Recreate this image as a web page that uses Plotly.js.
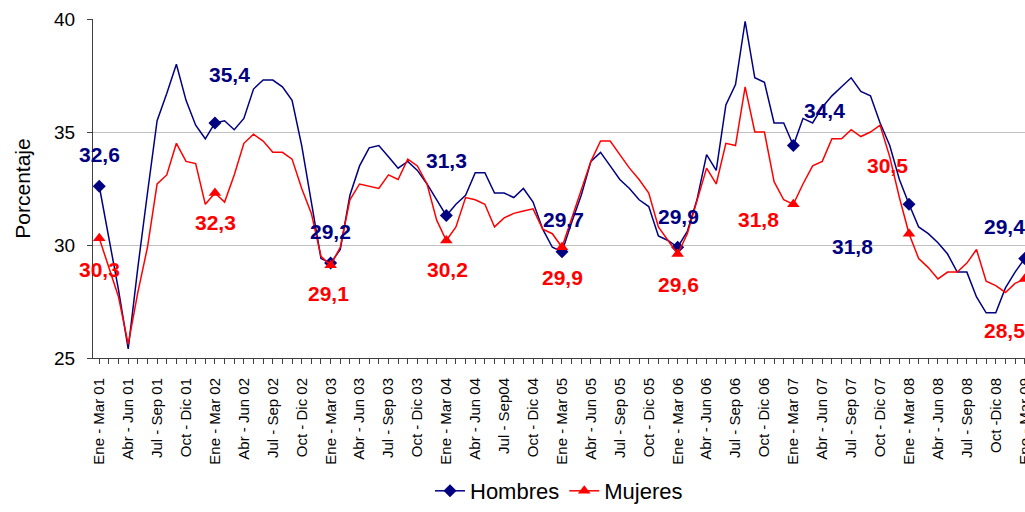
<!DOCTYPE html>
<html>
<head>
<meta charset="utf-8">
<script src="https://cdn.plot.ly/plotly-3.0.1.min.js"></script>
<style>
  body { margin: 0; overflow: hidden; background: #fff; }
  #chart { width: 1025px; height: 512px; }
</style>
</head>
<body>
<div id="chart"></div>
<script>
// ----- data: rolling quarters, Ene-Mar 01 .. Ene-Mar 09 (one point per month) -----
const hombres = [
  32.6, 30.3, 28.0, 25.4, 29.0, 32.3, 35.5, 36.7, 38.0, 36.4, 35.3, 34.7,
  35.4, 35.5, 35.1, 35.6, 36.9, 37.3, 37.3, 37.0, 36.4, 34.4, 31.9, 29.4,
  29.2, 29.8, 32.2, 33.5, 34.3, 34.4, 33.9, 33.4, 33.7, 33.3, 32.7, 32.0,
  31.3, 31.8, 32.2, 33.2, 33.2, 32.3, 32.3, 32.1, 32.5, 31.9, 30.7, 29.9,
  29.7, 31.0, 32.2, 33.7, 34.1, 33.5, 32.9, 32.5, 32.0, 31.7, 30.4, 30.2,
  29.9, 30.6, 32.0, 34.0, 33.3, 36.2, 37.1, 39.9, 37.4, 37.2, 35.4, 35.4,
  34.4, 35.6, 35.4, 36.1, 36.6, 37.0, 37.4, 36.8, 36.6, 35.4, 34.4, 32.9,
  31.8, 30.8, 30.5, 30.1, 29.6, 28.8, 28.8, 27.7, 27.0, 27.0, 28.1, 28.8,
  29.4
];

const mujeres = [
  30.3, 29.0, 27.7, 25.6, 27.9, 29.9, 32.7, 33.1, 34.5, 33.7, 33.6, 31.8,
  32.3, 31.9, 33.1, 34.5, 34.9, 34.6, 34.1, 34.1, 33.8, 32.5, 31.4, 29.5,
  29.1, 29.9, 32.0, 32.7, 32.6, 32.5, 33.1, 32.9, 33.8, 33.5, 32.7, 31.1,
  30.2, 30.8, 32.1, 32.0, 31.8, 30.8, 31.2, 31.4, 31.5, 31.6, 30.7, 30.5,
  29.9, 31.2, 32.5, 33.7, 34.6, 34.6, 34.0, 33.4, 32.9, 32.3, 30.8, 30.2,
  29.6, 30.5, 31.9, 33.4, 32.7, 34.5, 34.4, 37.0, 35.0, 35.0, 32.8, 32.0,
  31.8, 32.7, 33.5, 33.7, 34.7, 34.7, 35.1, 34.8, 35.0, 35.3, 33.9, 32.1,
  30.5, 29.4, 29.0, 28.5, 28.8, 28.8, 29.2, 29.8, 28.4, 28.2, 27.9, 28.3,
  28.5
];

// labels shown on the axis, one every third point
const tickLabels = [
  "Ene - Mar 01", "Abr - Jun 01", "Jul - Sep 01", "Oct - Dic 01",
  "Ene - Mar 02", "Abr - Jun 02", "Jul - Sep 02", "Oct - Dic 02",
  "Ene - Mar 03", "Abr - Jun 03", "Jul - Sep 03", "Oct - Dic 03",
  "Ene - Mar 04", "Abr - Jun 04", "Jul - Sep04", "Oct - Dic 04",
  "Ene - Mar 05", "Abr - Jun 05", "Jul - Sep 05", "Oct - Dic 05",
  "Ene - Mar 06", "Abr - Jun 06", "Jul - Sep 06", "Oct - Dic 06",
  "Ene - Mar 07", "Abr - Jun 07", "Jul - Sep 07", "Oct - Dic 07",
  "Ene - Mar 08", "Abr - Jun 08", "Jul - Sep 08", "Oct -Dic 08",
  "Ene - Mar 09"
];

const NAVY = "#000080";
const RED = "#ff0000";
const FONT = "Arial, Liberation Sans, sans-serif";

const xs = hombres.map((_, i) => i);
const tickVals = tickLabels.map((_, k) => k * 3);

// markers only on the Ene-Mar points
const markerColor = (c) => xs.map(i => (i % 12 === 0 ? c : "rgba(0,0,0,0)"));

const traces = [
  {
    x: xs, y: hombres, name: "Hombres",
    type: "scatter", mode: "lines+markers",
    line: { color: NAVY, width: 1.5 },
    marker: { symbol: "diamond", size: 10, color: markerColor(NAVY) },
    cliponaxis: false
  },
  {
    x: xs, y: mujeres, name: "Mujeres",
    type: "scatter", mode: "lines+markers",
    line: { color: RED, width: 1.5 },
    marker: { symbol: "triangle-up", size: 11, color: markerColor(RED) },
    cliponaxis: false
  }
];

// label offsets in pixels for each Ene-Mar point [index, dx, dy]
const blueLabelPos = [[0, 0, 32], [12, 15, 48], [24, 0, 32], [36, 0, 55], [48, 2, 32],
                      [60, 1, 31], [72, 31, 35], [84, -57, -42], [96, -20, 32]];
const redLabelPos = [[0, 0, -31], [12, 1, -29], [24, -2, -28], [36, 1, -29], [48, 1, -30],
                     [60, 1, -30], [72, -35, -15], [84, -22, 68], [96, -20, -52]];

const fmt = v => v.toFixed(1).replace(".", ",");
const annotations = [];
blueLabelPos.forEach(([i, dx, dy]) => annotations.push({
  x: i, y: hombres[i], xref: "x", yref: "y", text: "<b>" + fmt(hombres[i]) + "</b>",
  showarrow: false, xshift: dx, yshift: dy,
  font: { family: FONT, size: 21, color: NAVY }
}));
redLabelPos.forEach(([i, dx, dy]) => annotations.push({
  x: i, y: mujeres[i], xref: "x", yref: "y", text: "<b>" + fmt(mujeres[i]) + "</b>",
  showarrow: false, xshift: dx, yshift: dy,
  font: { family: FONT, size: 21, color: RED }
}));

const layout = {
  width: 1025, height: 512,
  margin: { l: 93, r: 0, t: 19, b: 154 },
  paper_bgcolor: "#fff", plot_bgcolor: "#fff",
  font: { family: FONT, color: "#000" },
  showlegend: true,
  legend: {
    orientation: "h", x: 0.5, xanchor: "center",
    yref: "container", y: -0.018, yanchor: "bottom",
    font: { family: FONT, size: 22, color: "#000" }
  },
  xaxis: {
    range: [-0.65, 96.03],
    tickmode: "array", tickvals: tickVals, ticktext: tickLabels,
    tickangle: -90, tickfont: { size: 15, color: "#000" },
    ticklabeloverflow: "allow", ticklabelstandoff: 8,
    ticks: "outside", ticklen: 5, tickcolor: "#404040",
    minor: { dtick: 1, tick0: 0, ticks: "outside", ticklen: 5, tickcolor: "#404040" },
    showgrid: false, zeroline: false,
    showline: true, linecolor: "#404040", linewidth: 1
  },
  yaxis: {
    range: [25, 40], dtick: 5, tick0: 25,
    tickfont: { size: 19, color: "#000" },
    ticklabelstandoff: 8,
    ticks: "outside", ticklen: 5, tickcolor: "#404040",
    showgrid: true, gridcolor: "#c0c0c0", gridwidth: 1,
    zeroline: false, showline: true, linecolor: "#404040", linewidth: 1,
    title: { text: "Porcentaje", standoff: 17, font: { size: 21, color: "#000" } }
  },
  annotations: annotations
};

Plotly.newPlot("chart", traces, layout, { displayModeBar: false, staticPlot: true });
</script>
</body>
</html>
